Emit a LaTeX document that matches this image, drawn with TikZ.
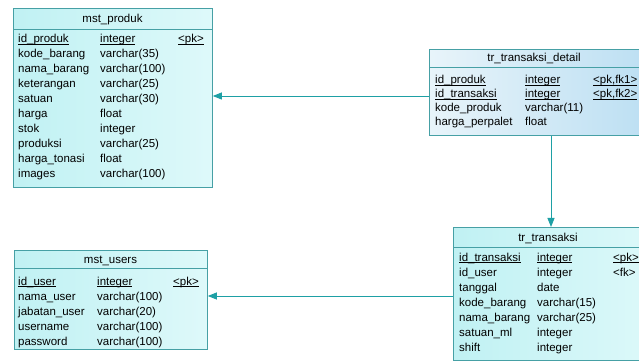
\documentclass[tikz,border=0pt]{standalone}
\usepackage{fontspec}
\setmainfont{Liberation Sans}
\usetikzlibrary{arrows.meta}
\definecolor{bordc}{RGB}{70,160,165}
\definecolor{arrc}{RGB}{30,160,165}
\definecolor{cyanA}{RGB}{192,241,243}
\definecolor{cyanB}{RGB}{222,249,250}
\definecolor{blueA}{RGB}{232,244,250}
\definecolor{blueB}{RGB}{186,222,242}
\tikzset{
  tbl/.style={draw=bordc, line width=0.8pt, rectangle, anchor=north west, inner sep=0pt},
  cyantbl/.style={tbl, left color=cyanA, right color=cyanB},
  bluetbl/.style={tbl, left color=blueA, right color=blueB},
  ttl/.style={anchor=base, font=\fontsize{11.5}{12}\selectfont, inner sep=0pt},
  cell/.style={anchor=base west, font=\fontsize{11.5}{12}\selectfont, inner sep=0pt},
  sep/.style={draw=bordc, line width=0.8pt},
  fk/.style={draw=arrc, line width=0.9pt, -{Triangle[length=9pt,width=7pt]}}
}
\newcommand{\ul}[1]{\setbox0\hbox{#1}\rlap{\rule[-1.7pt]{\wd0}{0.6pt}}\box0}
\begin{document}
\begin{tikzpicture}[x=1pt,y=-1pt]
\useasboundingbox (0,0) rectangle (639,363);
\clip (0,0) rectangle (639,363);
\fill[white] (0,0) rectangle (639,363);

% mst_produk
\node[cyantbl, minimum width=199pt, minimum height=179pt] (produk) at (13,8) {};
\draw[sep] (13,29) -- (212,29);
\node[ttl] (produkT) at (112.5,23) {mst\_produk};
\foreach \n/\t/\k [count=\i from 0] in {%
  {\ul{id\_produk}}/{\ul{integer}}/{\ul{<pk>}},
  kode\_barang/varchar(35)/{},
  nama\_barang/varchar(100)/{},
  keterangan/varchar(25)/{},
  satuan/varchar(30)/{},
  harga/float/{},
  stok/integer/{},
  produksi/varchar(25)/{},
  harga\_tonasi/float/{},
  images/varchar(100)/{}}{
  \node[cell] (pn\i) at (18,43+15*\i) {\n};
  \node[cell] (pt\i) at (100,43+15*\i) {\t};
  \node[cell] (pk\i) at (178,43+15*\i) {\k};
}

% tr_transaksi_detail
\node[bluetbl, minimum width=230pt, minimum height=86pt] (detail) at (429,49) {};
\draw[sep] (429,67) -- (659,67);
\node[ttl] (detailT) at (534,62) {tr\_transaksi\_detail};
\foreach \n/\t/\k [count=\i from 0] in {%
  {\ul{id\_produk}}/{\ul{integer}}/{\ul{<pk,fk1>}},
  {\ul{id\_transaksi}}/{\ul{integer}}/{\ul{<pk,fk2>}},
  kode\_produk/varchar(11)/{},
  harga\_perpalet/float/{}}{
  \node[cell] (dn\i) at (435,84+14*\i) {\n};
  \node[cell] (dt\i) at (525,84+14*\i) {\t};
  \node[cell] (dk\i) at (593,84+14*\i) {\k};
}

% mst_users
\node[cyantbl, minimum width=193pt, minimum height=99pt] (users) at (14,250) {};
\draw[sep] (14,268) -- (207,268);
\node[ttl] (usersT) at (110.5,263.5) {mst\_users};
\foreach \n/\t/\k [count=\i from 0] in {%
  {\ul{id\_user}}/{\ul{integer}}/{\ul{<pk>}},
  nama\_user/varchar(100)/{},
  jabatan\_user/varchar(20)/{},
  username/varchar(100)/{},
  password/varchar(100)/{}}{
  \node[cell] (un\i) at (18,285+15*\i) {\n};
  \node[cell] (ut\i) at (97,285+15*\i) {\t};
  \node[cell] (uk\i) at (173,285+15*\i) {\k};
}

% tr_transaksi
\node[cyantbl, minimum width=210pt, minimum height=133pt] (trans) at (453,227) {};
\draw[sep] (453,247) -- (663,247);
\node[ttl] (transT) at (548,241.5) {tr\_transaksi};
\foreach \n/\t/\k [count=\i from 0] in {%
  {\ul{id\_transaksi}}/{\ul{integer}}/{\ul{<pk>}},
  id\_user/integer/{<fk>},
  tanggal/date/{},
  kode\_barang/varchar(15)/{},
  nama\_barang/varchar(25)/{},
  satuan\_ml/integer/{},
  shift/integer/{}}{
  \node[cell] (tn\i) at (459,261+15*\i) {\n};
  \node[cell] (tt\i) at (537,261+15*\i) {\t};
  \node[cell] (tk\i) at (613,261+15*\i) {\k};
}

% references
\draw[fk] (detail.west |- 0,96) -- (produk.east |- 0,96);
\draw[fk] (detail.south -| 551,0) -- (trans.north -| 551,0);
\draw[fk] (trans.west |- 0,296) -- (users.east |- 0,296);
\end{tikzpicture}
\end{document}
